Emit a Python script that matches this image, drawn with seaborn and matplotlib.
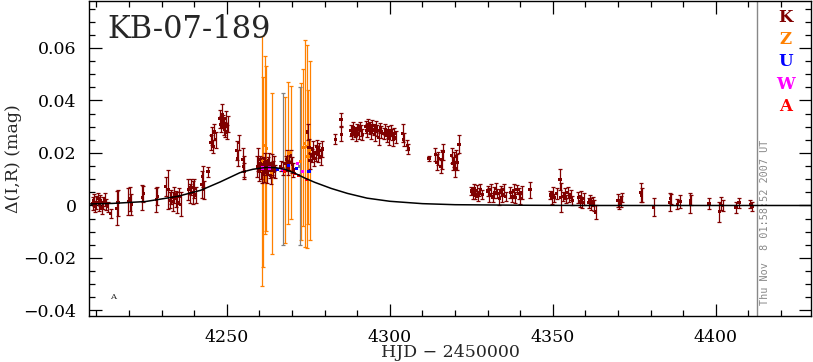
import matplotlib
matplotlib.use('Agg')
import matplotlib.pyplot as plt
from matplotlib.ticker import MultipleLocator
import numpy as np
import pandas as pd
import seaborn as sns

# ---- K observatory (dark red) : HJD-2450000, Delta(I,R), error ----
k_hjd = [4208.8, 4209.2, 4209.6, 4210.0, 4210.4, 4210.8, 4211.2, 4211.6, 4212.0, 4212.5, 4213.0, 4213.4,
         4214.4, 4216.3, 4216.6, 4219.8, 4220.3, 4220.7, 4224.0, 4224.3, 4228.3, 4228.6,
         4231.2, 4232.0, 4232.6, 4233.0, 4233.4, 4233.8, 4234.3, 4234.8, 4235.3, 4235.8,
         4238.2, 4238.6, 4239.0, 4239.5, 4240.0, 4240.4, 4242.3, 4242.6, 4242.9, 4244.2,
         4245.0, 4245.4, 4245.8, 4246.2, 4246.6, 4247.8, 4248.2, 4248.5, 4248.8, 4249.1, 4249.4, 4249.7, 4250.0, 4250.3,
         4253.0, 4253.3, 4253.6, 4254.8, 4255.1, 4255.4,
         4259.3, 4259.6, 4259.9, 4260.2, 4260.5, 4260.8, 4261.1, 4261.4, 4261.7, 4262.0, 4262.3, 4262.6, 4262.9, 4263.2, 4263.5, 4263.8, 4264.1, 4264.4, 4264.7,
         4266.5, 4267.2, 4268.0, 4268.4, 4268.8, 4269.2, 4269.6, 4270.0, 4270.4,
         4274.8, 4275.2, 4275.5, 4276.0, 4276.4, 4276.8, 4277.2, 4277.6, 4278.0, 4278.4, 4278.8, 4279.2,
         4283.2, 4285.0, 4285.1, 4288.0, 4288.4, 4288.8, 4289.2, 4289.6, 4290.0, 4290.4, 4290.8, 4291.2, 4291.6,
         4292.6, 4293.0, 4293.4, 4293.8, 4294.2, 4294.6, 4295.0, 4295.4, 4295.8, 4296.2, 4296.6, 4297.0, 4297.4,
         4298.2, 4298.6, 4299.0, 4299.4, 4299.8, 4300.2, 4300.6, 4301.0, 4301.4, 4301.8, 4304.0, 4304.2, 4305.3, 4305.6,
         4312.0, 4314.0, 4314.4, 4314.8, 4315.6, 4316.0, 4316.3, 4319.0, 4319.3, 4319.6, 4320.0, 4320.3, 4320.6, 4321.2,
         4325.0, 4325.4, 4325.8, 4326.2, 4326.6, 4327.0, 4327.4, 4327.8, 4328.3,
         4330.0, 4330.5, 4331.0, 4331.5, 4332.0, 4332.5, 4333.0, 4333.5, 4334.0, 4334.5, 4335.0, 4335.5,
         4337.0, 4337.5, 4338.0, 4338.5, 4339.0, 4339.5, 4340.0, 4340.5, 4343.0,
         4349.2, 4349.6, 4350.0, 4350.4, 4351.2, 4352.2, 4352.4, 4353.2, 4353.6, 4354.0, 4354.5, 4355.0, 4355.5, 4356.0,
         4357.8, 4358.2, 4358.6, 4359.0, 4359.5, 4361.0, 4361.4, 4361.8, 4362.2, 4362.6, 4363.2,
         4370.0, 4370.4, 4370.8, 4371.2, 4377.0, 4377.2, 4381.0, 4385.9, 4386.1, 4388.2, 4389.0, 4392.1, 4392.3, 4397.9,
         4401.0, 4401.5, 4402.1, 4406.2, 4407.1, 4410.6, 4411.2]
k_dc = [0.0008, 0.0020, -0.0004, 0.0012, 0.0028, 0.0005, 0.0018, -0.0010, 0.0010, 0.0024, 0.0003, -0.0005,
        -0.0030, -0.0010, 0.0010, 0.0015, 0.0025, 0.0005, 0.0030, 0.0045, 0.0022, 0.0035,
        0.0072, 0.0060, 0.0020, 0.0032, 0.0015, 0.0040, 0.0025, 0.0010, 0.0035, 0.0005,
        0.0060, 0.0045, 0.0070, 0.0050, 0.0065, 0.0040, 0.0080, 0.0110, 0.0060, 0.0128,
        0.0240, 0.0265, 0.0225, 0.0280, 0.0250, 0.0330, 0.0310, 0.0345, 0.0320, 0.0300, 0.0290, 0.0330, 0.0280, 0.0310,
        0.0210, 0.0180, 0.0240, 0.0175, 0.0150, 0.0130,
        0.0150, 0.0175, 0.0130, 0.0160, 0.0140, 0.0120, 0.0155, 0.0135, 0.0165, 0.0145, 0.0125, 0.0150, 0.0170, 0.0135, 0.0115, 0.0155, 0.0140, 0.0160, 0.0130,
        0.0150, 0.0140, 0.0160, 0.0175, 0.0145, 0.0165, 0.0185, 0.0155, 0.0135,
        0.0280, 0.0220, 0.0170, 0.0190, 0.0215, 0.0180, 0.0200, 0.0225, 0.0195, 0.0210, 0.0185, 0.0215,
        0.0253, 0.0326, 0.0272, 0.0285, 0.0270, 0.0295, 0.0280, 0.0265, 0.0290, 0.0275, 0.0300, 0.0285, 0.0270,
        0.0300, 0.0285, 0.0310, 0.0295, 0.0280, 0.0305, 0.0290, 0.0270, 0.0300, 0.0285, 0.0260, 0.0295, 0.0280,
        0.0275, 0.0290, 0.0265, 0.0280, 0.0255, 0.0285, 0.0270, 0.0250, 0.0275, 0.0260, 0.0275, 0.0250, 0.0230, 0.0215,
        0.0180, 0.0195, 0.0165, 0.0180, 0.0150, 0.0175, 0.0205, 0.0190, 0.0160, 0.0175, 0.0140, 0.0185, 0.0165, 0.0234,
        0.0055, 0.0045, 0.0065, 0.0040, 0.0058, 0.0035, 0.0050, 0.0062, 0.0042,
        0.0055, 0.0040, 0.0060, 0.0030, 0.0050, 0.0065, 0.0045, 0.0025, 0.0055, 0.0040, 0.0060, 0.0035,
        0.0050, 0.0035, 0.0055, 0.0030, 0.0060, 0.0045, 0.0025, 0.0050, 0.0060,
        0.0040, 0.0025, 0.0050, 0.0030, 0.0045, 0.0100, 0.0030, 0.0035, 0.0045, 0.0025, 0.0050, 0.0030, 0.0040, 0.0020,
        0.0030, 0.0015, 0.0035, 0.0010, 0.0025, 0.0010, 0.0020, 0.0005, 0.0015, 0.0000, -0.0025,
        0.0020, 0.0005, 0.0015, 0.0030, 0.0050, 0.0040, -0.0006, 0.0013, 0.0025, 0.0005, 0.0015, 0.0008, 0.0020, 0.0008,
        -0.0023, 0.0008, 0.0000, -0.0008, 0.0010, 0.0005, -0.0003]
k_err = [0.0025, 0.0022, 0.0020, 0.0024, 0.0020, 0.0026, 0.0021, 0.0024, 0.0022, 0.0025, 0.0020, 0.0020,
         0.0018, 0.0065, 0.0050, 0.0050, 0.0045, 0.0040, 0.0048, 0.0030, 0.0045, 0.0035,
         0.0035, 0.0075, 0.0030, 0.0028, 0.0035, 0.0030, 0.0032, 0.0040, 0.0030, 0.0045,
         0.0040, 0.0035, 0.0030, 0.0045, 0.0035, 0.0030, 0.0050, 0.0040, 0.0035, 0.0020,
         0.0030, 0.0035, 0.0025, 0.0030, 0.0030, 0.0035, 0.0030, 0.0040, 0.0025, 0.0030, 0.0028, 0.0030, 0.0025, 0.0030,
         0.0035, 0.0030, 0.0030, 0.0045, 0.0040, 0.0030,
         0.0040, 0.0045, 0.0035, 0.0030, 0.0040, 0.0035, 0.0030, 0.0045, 0.0035, 0.0030, 0.0040, 0.0035, 0.0030, 0.0030, 0.0035, 0.0040, 0.0030, 0.0030, 0.0025,
         0.0020, 0.0025, 0.0030, 0.0035, 0.0030, 0.0030, 0.0025, 0.0030, 0.0025,
         0.0030, 0.0035, 0.0030, 0.0025, 0.0030, 0.0028, 0.0030, 0.0025, 0.0030, 0.0028, 0.0030, 0.0030,
         0.0020, 0.0025, 0.0028, 0.0020, 0.0018, 0.0022, 0.0020, 0.0018, 0.0020, 0.0022, 0.0018, 0.0020, 0.0020,
         0.0022, 0.0025, 0.0020, 0.0022, 0.0025, 0.0020, 0.0022, 0.0025, 0.0020, 0.0022, 0.0028, 0.0020, 0.0022,
         0.0022, 0.0020, 0.0025, 0.0022, 0.0025, 0.0020, 0.0022, 0.0025, 0.0020, 0.0022, 0.0035, 0.0025, 0.0020, 0.0018,
         0.0010, 0.0025, 0.0030, 0.0025, 0.0025, 0.0035, 0.0030, 0.0028, 0.0025, 0.0030, 0.0030, 0.0025, 0.0030, 0.0035,
         0.0015, 0.0020, 0.0018, 0.0015, 0.0020, 0.0018, 0.0015, 0.0020, 0.0018,
         0.0020, 0.0025, 0.0020, 0.0018, 0.0022, 0.0020, 0.0018, 0.0022, 0.0020, 0.0025, 0.0020, 0.0018,
         0.0022, 0.0020, 0.0025, 0.0020, 0.0018, 0.0022, 0.0020, 0.0025, 0.0030,
         0.0015, 0.0018, 0.0020, 0.0015, 0.0020, 0.0040, 0.0055, 0.0018, 0.0020, 0.0015, 0.0022, 0.0018, 0.0020, 0.0018,
         0.0020, 0.0022, 0.0020, 0.0018, 0.0022, 0.0018, 0.0020, 0.0022, 0.0018, 0.0020, 0.0025,
         0.0025, 0.0020, 0.0022, 0.0018, 0.0035, 0.0025, 0.0033, 0.0035, 0.0020, 0.0020, 0.0025, 0.0038, 0.0020, 0.0020,
         0.0038, 0.0025, 0.0020, 0.0020, 0.0020, 0.0015, 0.0018]

# ---- Z observatory (orange), huge error bars ----
z_hjd = [4260.9, 4261.0, 4261.8, 4262.1, 4263.7, 4267.7, 4268.8, 4269.6, 4272.6, 4273.5, 4273.9, 4274.5, 4274.9, 4275.4]
z_dc = [0.0169, 0.0127, 0.0230, 0.0217, 0.0121, 0.0137, 0.0200, 0.0203, 0.0167, 0.0220, 0.0235, 0.0226, 0.0186, 0.0209]
z_err = [0.0476, 0.0363, 0.0338, 0.0313, 0.0306, 0.0278, 0.0270, 0.0253, 0.0299, 0.0300, 0.0395, 0.0387, 0.0255, 0.0340]

# ---- unlabelled grey points ----
g_hjd = [4267.3, 4272.3]
g_dc = [0.0140, 0.0150]
g_err = [0.0290, 0.0300]

# ---- U, W, A (small errors) ----
u_hjd = [4265.6, 4267.3, 4269.0, 4271.4, 4275.2]
u_dc = [0.0137, 0.0134, 0.0151, 0.0141, 0.0130]
w_hjd = [4261.0, 4263.2, 4267.1, 4271.7, 4273.1]
w_dc = [0.0143, 0.0143, 0.0138, 0.0160, 0.0131]
a_hjd = [4267.8, 4270.7, 4271.9, 4274.3]
a_dc = [0.0131, 0.0121, 0.0115, 0.0100]

# ---- model curve ----
model_hjd = [4205, 4215, 4225, 4235, 4242, 4248, 4254, 4258, 4262, 4265, 4268, 4271, 4274, 4277,
             4282, 4287, 4293, 4300, 4310, 4320, 4340, 4360, 4380, 4430]
model_dc = [0.0005, 0.0008, 0.0015, 0.0035, 0.0058, 0.0090, 0.0125, 0.0138, 0.0145, 0.0144, 0.0137, 0.0122,
            0.0104, 0.0088, 0.0065, 0.0046, 0.0028, 0.0016, 0.0007, 0.0003, 0.0001, 0.0, 0.0, 0.0]

legend_names = ['K', 'Z', 'U', 'W', 'A']
colors = {'K': '#800000', 'Z': '#ff8000', 'G': '#808080', 'U': '#0000ff', 'W': '#ff00ff', 'A': '#ff0000'}

ytick_vals = [-0.04, -0.02, 0, 0.02, 0.04, 0.06]
ytick_labels = ['\u22120.04', '\u22120.02', '0', '0.02', '0.04', '0.06']
xtick_vals = [4250, 4300, 4350, 4400]

sns.set_theme(style='ticks')
plt.rcParams['font.family'] = ['DejaVu Serif']

fig = plt.figure(figsize=(8.13, 3.62), dpi=100)
ax = fig.add_axes([89/813, 46/362, 722/813, 315/362])

# error bars first, then points on top
for key, hjd, dc, err in [('Z', z_hjd, z_dc, z_err), ('G', g_hjd, g_dc, g_err), ('K', k_hjd, k_dc, k_err)]:
    ax.errorbar(hjd, dc, yerr=err, fmt='none', ecolor=colors[key], elinewidth=0.9,
                capsize=1.5, capthick=0.9, zorder=2)

pts = pd.concat([
    pd.DataFrame({'hjd': z_hjd, 'dc': z_dc, 'obs': 'Z'}),
    pd.DataFrame({'hjd': g_hjd, 'dc': g_dc, 'obs': 'G'}),
    pd.DataFrame({'hjd': k_hjd, 'dc': k_dc, 'obs': 'K'}),
    pd.DataFrame({'hjd': u_hjd, 'dc': u_dc, 'obs': 'U'}),
    pd.DataFrame({'hjd': w_hjd, 'dc': w_dc, 'obs': 'W'}),
    pd.DataFrame({'hjd': a_hjd, 'dc': a_dc, 'obs': 'A'}),
], ignore_index=True)
sns.scatterplot(data=pts, x='hjd', y='dc', hue='obs', palette=colors, marker='s', s=5,
                linewidth=0, legend=False, ax=ax, zorder=3)

model = pd.DataFrame({'hjd': model_hjd, 'dc': model_dc})
sns.lineplot(data=model, x='hjd', y='dc', color='black', linewidth=1.1, ax=ax, zorder=4)

# grey date line
ax.axvline(4412.7, color='#888888', linewidth=1.0, zorder=1)
ax.text(0.936, 0.035, 'Thu Nov  8 01:58:52 2007 UT', transform=ax.transAxes, rotation=90,
        ha='center', va='bottom', color='#888888', fontsize=7.3, family='DejaVu Sans Mono')

ax.set_xlim(4207.7, 4429.2)
ax.set_ylim(-0.0421, 0.0779)
ax.set_xticks(xtick_vals)
ax.set_yticks(ytick_vals)
ax.set_yticklabels(ytick_labels)
ax.xaxis.set_minor_locator(MultipleLocator(10))
ax.yaxis.set_minor_locator(MultipleLocator(0.005))
ax.tick_params(which='both', direction='in', top=True, right=True, colors='black', width=0.9)
ax.tick_params(which='major', length=9, labelsize=12.5, pad=9)
ax.tick_params(which='minor', length=4.5)
for s in ax.spines.values():
    s.set_color('black')
    s.set_linewidth(1.0)

ax.set_xlabel('HJD \u2212 2450000', fontsize=12.5)
ax.set_ylabel('\u0394(I,R) (mag)', fontsize=12.5)
ax.xaxis.set_label_coords(0.5, -0.09)
ax.yaxis.set_label_coords(-0.093, 0.5)

ax.text(0.026, 0.958, 'KB-07-189', transform=ax.transAxes, fontsize=22, ha='left', va='top')
ax.text(0.029, 0.06, 'A', transform=ax.transAxes, fontsize=6, ha='left', va='center')

for i, name in enumerate(legend_names):
    ax.text(0.965, 0.949 - i * 0.071, name, transform=ax.transAxes, color=colors[name],
            fontsize=12, fontweight='bold', ha='center', va='center')

plt.savefig('out.png', dpi=100)
